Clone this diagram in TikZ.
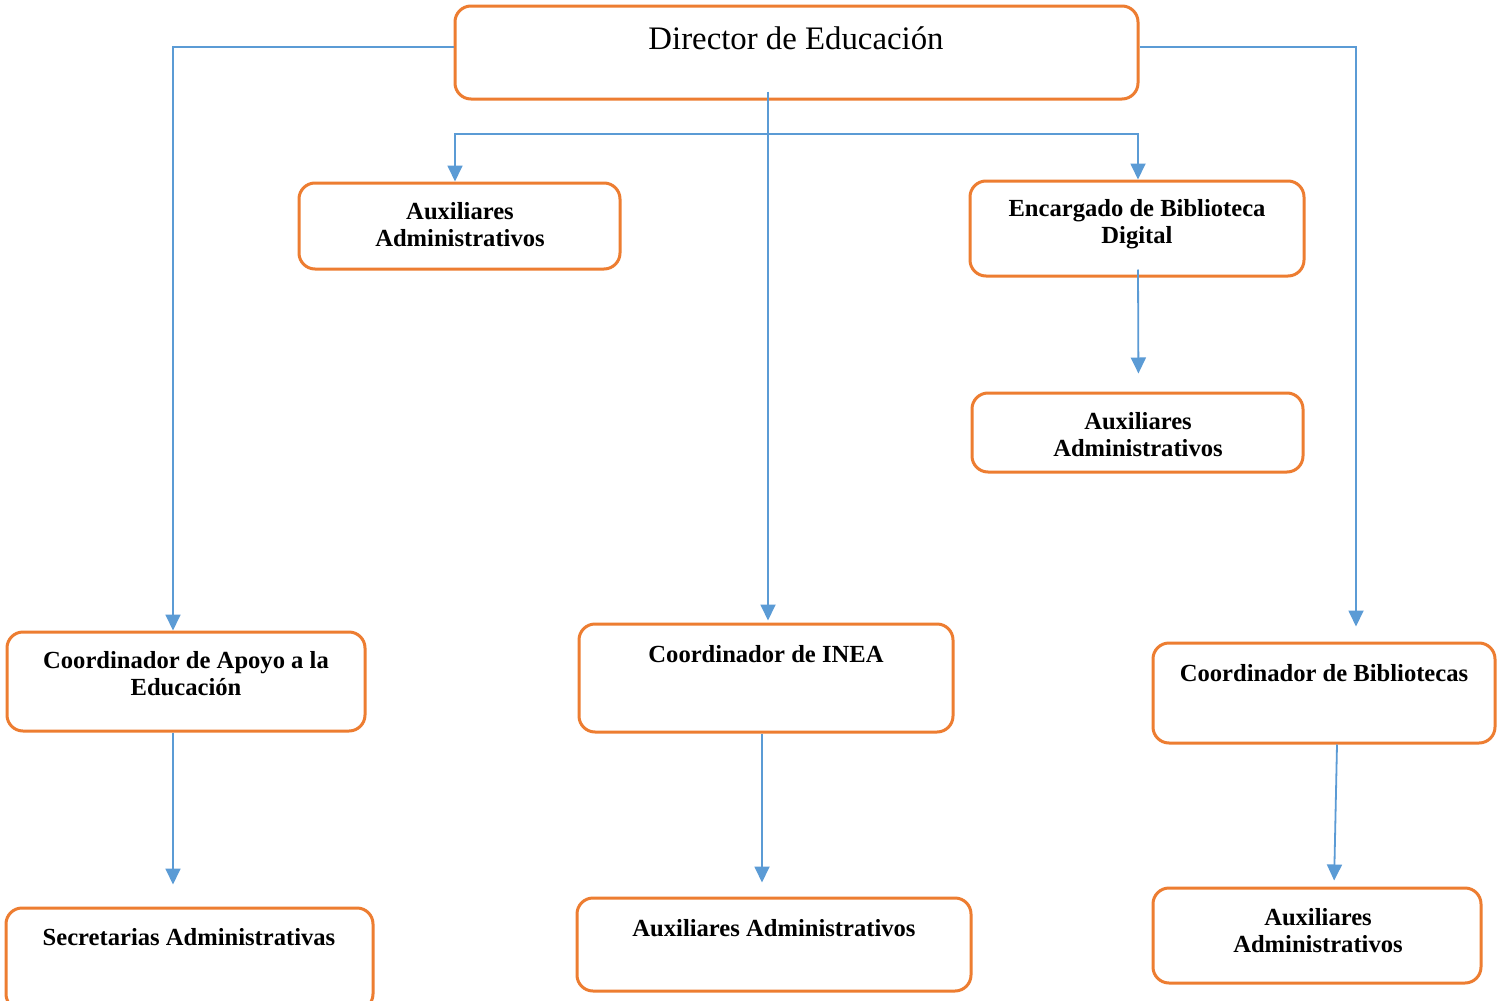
\documentclass[tikz,border=0pt]{standalone}
\usepackage{fontspec}
\setmainfont{Liberation Serif}
\usetikzlibrary{arrows.meta}
\definecolor{boxorange}{HTML}{ED7D31}
\definecolor{linkblue}{HTML}{5B9BD5}
\tikzset{
  box/.style={draw=boxorange, line width=1.5pt, rounded corners=8pt, fill=white, inner sep=0pt},
  lbl/.style={align=center, font=\fontsize{12.3}{13.5}\selectfont\bfseries, inner sep=0pt},
  conn/.style={draw=linkblue, line width=0.9pt},
  tip/.style={-{Triangle[length=8pt,width=7.5pt]}},
}
\begin{document}
\begin{tikzpicture}[x=0.5pt,y=-0.5pt]
\useasboundingbox (0,0) rectangle (1505,1001);
\clip (0,0) rectangle (1505,1001);
\fill[white] (0,0) rectangle (1505,1001);
% boxes
\node[box, minimum width=341.5pt, minimum height=46.5pt] (dir) at (796.5,52.5) {};
\node[box, minimum width=160.5pt, minimum height=43pt] (aux1) at (459.5,226) {};
\node[box, minimum width=167pt, minimum height=47.5pt] (enc) at (1137,228.5) {};
\node[box, minimum width=165.5pt, minimum height=39.5pt] (aux2) at (1137.5,432.5) {};
\node[box, minimum width=179pt, minimum height=49.5pt] (apoyo) at (186,681.5) {};
\node[box, minimum width=187pt, minimum height=54pt] (inea) at (766,678) {};
\node[box, minimum width=171pt, minimum height=50pt] (bibl) at (1324,693) {};
\node[box, minimum width=183.5pt, minimum height=51pt] (sec) at (189.5,959) {};
\node[box, minimum width=197pt, minimum height=46.5pt] (auxinea) at (774,944.5) {};
\node[box, minimum width=164pt, minimum height=47.5pt] (auxbibl) at (1317,935.5) {};
% texts
\node[lbl, font=\fontsize{16.4}{18}\selectfont] (tdir) at (796,38) {Director de Educación};
\node[lbl] (taux1) at (460,225) {Auxiliares\\Administrativos};
\node[lbl] (tenc) at (1137,224) {Encargado de Biblioteca\\Digital};
\node[lbl] (taux2) at (1138,435) {Auxiliares\\Administrativos};
\node[lbl] (tapoyo) at (186,674) {Coordinador de Apoyo a la\\Educación};
\node[lbl] (tinea) at (766,654) {Coordinador de INEA};
\node[lbl] (tbibl) at (1324,673) {Coordinador de Bibliotecas};
\node[lbl] (tsec) at (189,937) {Secretarias Administrativas};
\node[lbl] (tauxinea) at (774,928) {Auxiliares Administrativos};
\node[lbl] (tauxbibl) at (1318,931) {Auxiliares\\Administrativos};
% connectors
\coordinate (bar) at (796.5,134);
\draw[conn, tip] ([yshift=2.75pt]dir.west) -| ([xshift=-6.5pt]apoyo.north);
\draw[conn, tip, shorten >=7.5pt] ([yshift=2.75pt]dir.east) -| ([xshift=16pt]bibl.north);
\draw[conn, tip, shorten >=1pt] ([xshift=-14.25pt,yshift=4.5pt]dir.south) -- ([xshift=1pt]inea.north);
\draw[conn, {Triangle[length=8pt,width=7.5pt]}-{Triangle[length=8pt,width=7.5pt]}] ([xshift=-2.25pt]aux1.north) |- (bar) -| ([xshift=0.5pt]enc.north);
\draw[conn, tip, shorten >=9pt] ([xshift=0.5pt,yshift=4pt]enc.south) -- ([xshift=0.5pt]aux2.north);
\draw[conn, tip, shorten >=11pt] ([xshift=-6.5pt]apoyo.south) -- ([xshift=-8.25pt]sec.north);
\draw[conn, tip, shorten >=7pt] ([xshift=-2pt]inea.south) -- ([xshift=-6pt]auxinea.north);
\draw[conn, tip, shorten >=3pt] ([xshift=6.5pt]bibl.south) -- ([xshift=8.5pt]auxbibl.north);
\end{tikzpicture}
\end{document}
